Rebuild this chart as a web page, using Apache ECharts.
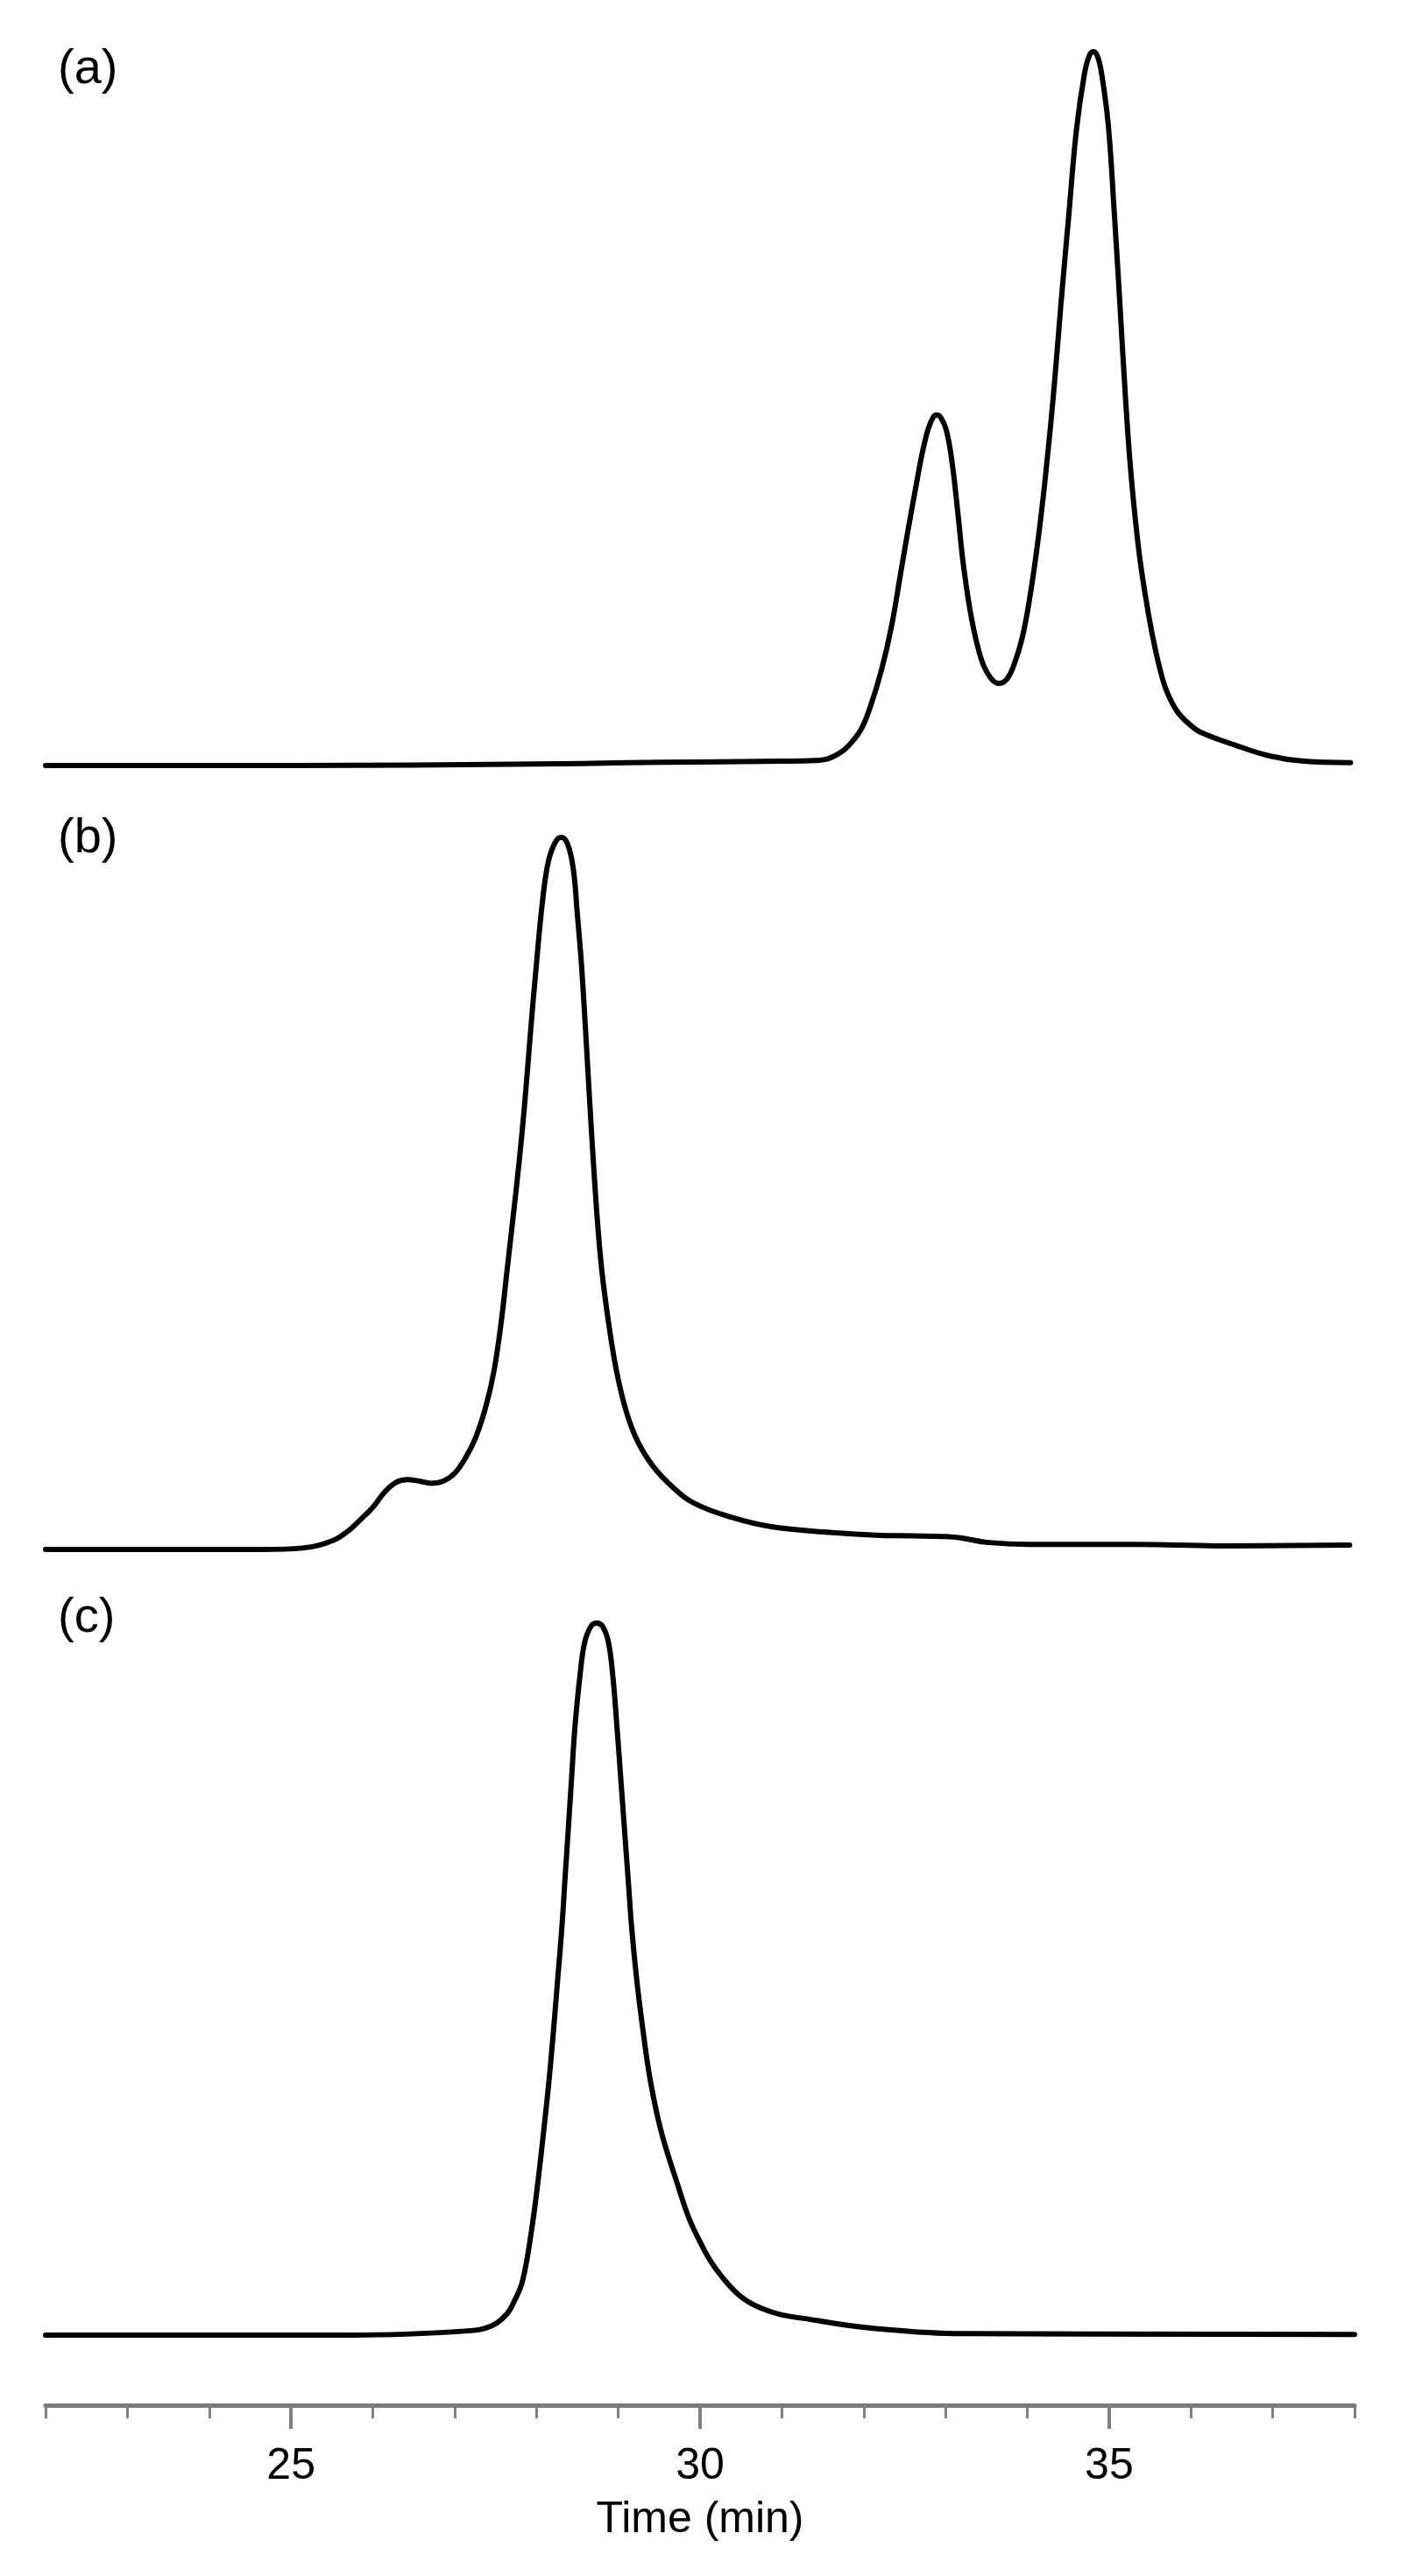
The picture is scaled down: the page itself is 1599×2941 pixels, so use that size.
<!DOCTYPE html>
<html>
<head>
<meta charset="utf-8">
<title>Chromatograms</title>
<script src="https://cdn.jsdelivr.net/npm/echarts@6.0.0/dist/echarts.min.js"></script>
<style>
  html, body { margin: 0; padding: 0; background: #fff; }
  #chart { width: 1599px; height: 2941px; }
</style>
</head>
<body>
<div id="chart"></div>
<script>
// retention time (min) and detector signal (scaled so the tallest peak of each trace = 100)
const timesA = [22, 25, 28, 29.1, 30, 31, 31.4, 31.55, 31.7, 31.8, 31.96, 32.08, 32.22, 32.34, 32.46, 32.55, 32.65, 32.72, 32.79, 32.85, 32.89, 32.94, 33.01, 33.08, 33.15, 33.22, 33.32, 33.44, 33.55, 33.65, 33.75, 33.84, 33.94, 34.03, 34.13, 34.22, 34.32, 34.41, 34.51, 34.6, 34.7, 34.76, 34.81, 34.86, 34.91, 34.99, 35.06, 35.13, 35.2, 35.27, 35.37, 35.48, 35.57, 35.67, 35.76, 35.85, 36.0, 36.13, 36.53, 36.96, 37.38, 37.95];
const valuesA = [0, 0, 0.2, 0.4, 0.5, 0.6, 0.7, 0.9, 1.7, 2.6, 4.9, 8.2, 13.5, 19.5, 27.5, 33.5, 39.8, 44.0, 47.2, 48.8, 49.1, 48.8, 47.0, 42.5, 35.5, 28.0, 20.5, 14.8, 12.3, 11.5, 12.1, 14.2, 18.0, 23.5, 31.5, 40.3, 52.0, 64.5, 77.5, 89.0, 97.0, 99.5, 100, 99.3, 96.8, 89.7, 78.0, 65.0, 51.5, 40.5, 29.5, 21.3, 16.0, 11.5, 9.0, 7.3, 5.6, 4.6, 2.9, 1.35, 0.6, 0.4];

const timesB = [22, 24.66, 25.14, 25.52, 25.71, 25.85, 26.0, 26.14, 26.28, 26.42, 26.57, 26.71, 26.86, 27.0, 27.14, 27.26, 27.38, 27.48, 27.57, 27.64, 27.71, 27.79, 27.86, 27.93, 28.0, 28.07, 28.14, 28.22, 28.3, 28.38, 28.45, 28.5, 28.55, 28.6, 28.65, 28.695, 28.745, 28.8, 28.88, 28.98, 29.1, 29.24, 29.43, 29.67, 29.91, 30.39, 30.87, 31.58, 32.15, 32.6, 33.0, 33.2, 33.5, 34.03, 35.37, 36.32, 37.94];
const valuesB = [0, 0, 0.2, 1.3, 2.7, 4.2, 5.9, 8.0, 9.4, 9.8, 9.6, 9.3, 9.6, 10.7, 13.0, 15.8, 20.0, 25.0, 32.0, 39.1, 46.2, 54.6, 63.1, 73.0, 82.2, 90.6, 96.3, 99.1, 100, 99.1, 95.6, 89.2, 82.2, 73.0, 63.1, 54.6, 46.2, 39.1, 32.0, 25.0, 19.3, 15.1, 11.6, 8.7, 6.6, 4.5, 3.2, 2.4, 2.0, 1.9, 1.8, 1.6, 1.0, 0.7, 0.7, 0.5, 0.6];

const timesC = [22, 25.73, 27.16, 27.45, 27.64, 27.73, 27.83, 27.94, 28.02, 28.09, 28.155, 28.21, 28.26, 28.31, 28.35, 28.39, 28.43, 28.47, 28.53, 28.59, 28.67, 28.74, 28.81, 28.88, 28.935, 28.985, 29.03, 29.075, 29.12, 29.165, 29.225, 29.3, 29.39, 29.52, 29.71, 29.93, 30.31, 30.74, 31.46, 32.17, 33.21, 38];
const valuesC = [0, 0, 0.6, 1.3, 3.0, 4.8, 7.6, 14.7, 21.7, 28.8, 35.9, 43.0, 50.0, 57.1, 64.2, 71.2, 78.3, 85.3, 92.4, 97.3, 99.6, 100, 99.5, 97.3, 92.4, 85.3, 78.3, 71.2, 64.2, 57.1, 50.0, 43.0, 35.9, 28.8, 21.7, 14.7, 7.6, 3.8, 2.0, 0.9, 0.2, 0.1];

const panelLabels = ['(a)', '(b)', '(c)'];
const majorTicks = [25, 30, 35];
const minorTicks = [22, 23, 24, 26, 27, 28, 29, 31, 32, 33, 34, 36, 37, 38];
const xName = 'Time (min)';

const FONT = '"Liberation Sans", Arial, sans-serif';

function pairs(xs, ys) {
  return xs.map((x, i) => [x, ys[i]]);
}

// panel placement, px
const grids = [
  { left: 52, right: 53, top: 59, height: 815 },
  { left: 52, right: 53, top: 956, height: 813 },
  { left: 52, right: 53, top: 1853, height: 813 }
];
const labelY = [84, 962, 1852];

const chart = echarts.init(document.getElementById('chart'));

const hiddenX = (i) => ({ type: 'value', gridIndex: i, min: 22, max: 38, show: false });
const hiddenY = (i) => ({ type: 'value', gridIndex: i, min: 0, max: 100, show: false });

const lineSeries = (data, i) => ({
  type: 'line',
  xAxisIndex: i,
  yAxisIndex: i,
  data: data,
  showSymbol: false,
  smooth: 0.4,
  clip: false,
  lineStyle: { color: '#000', width: 6, join: 'round', cap: 'round' },
  animation: false
});

chart.setOption({
  backgroundColor: '#fff',
  animation: false,
  grid: grids,
  xAxis: [
    hiddenX(0),
    hiddenX(1),
    {
      // major ticks + labels
      type: 'value', gridIndex: 2, position: 'bottom', min: 22, max: 38, offset: 80,
      name: xName, nameLocation: 'middle', nameGap: 106,
      nameTextStyle: { fontFamily: FONT, fontSize: 50, color: '#000' },
      axisLine: { show: true, onZero: false, lineStyle: { color: '#7a7a7a', width: 5 } },
      axisTick: { show: true, customValues: majorTicks, length: 27, lineStyle: { color: '#808080', width: 4 } },
      axisLabel: { show: true, customValues: majorTicks, margin: 45, fontFamily: FONT, fontSize: 50, color: '#000' },
      splitLine: { show: false }
    },
    {
      // minor ticks only
      type: 'value', gridIndex: 2, position: 'bottom', min: 22, max: 38, offset: 80,
      axisLine: { show: false, onZero: false },
      axisTick: { show: true, customValues: minorTicks, length: 15, lineStyle: { color: '#808080', width: 3 } },
      axisLabel: { show: false },
      splitLine: { show: false }
    }
  ],
  yAxis: [hiddenY(0), hiddenY(1), hiddenY(2)],
  series: [
    lineSeries(pairs(timesA, valuesA), 0),
    lineSeries(pairs(timesB, valuesB), 1),
    lineSeries(pairs(timesC, valuesC), 2)
  ],
  graphic: panelLabels.map((t, i) => ({
    type: 'text',
    left: 66,
    top: labelY[i] - 32,
    style: { text: t, font: '56px ' + FONT, fill: '#000' }
  }))
});
</script>
</body>
</html>
